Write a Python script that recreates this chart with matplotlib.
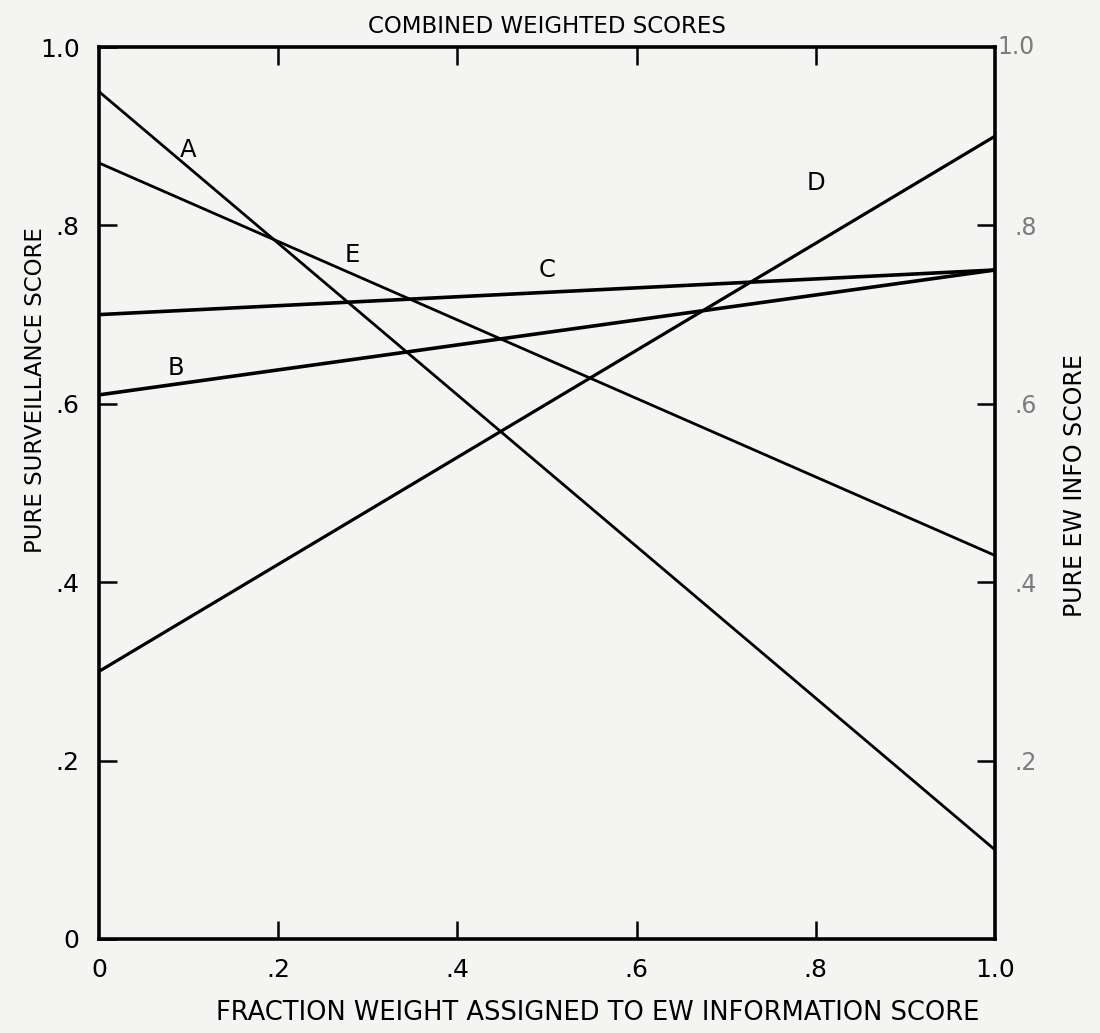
import matplotlib
matplotlib.use("Agg")
import matplotlib.pyplot as plt

# Data: line endpoints (x = 0 and x = 1.0)
x_vals = [0.0, 1.0]
series_names = ["A", "B", "C", "D", "E"]
A_vals = [0.95, 0.10]
B_vals = [0.61, 0.75]
C_vals = [0.70, 0.75]
D_vals = [0.30, 0.90]
E_vals = [0.87, 0.43]

label_pos = {"A": (0.10, 0.885), "B": (0.086, 0.64), "C": (0.50, 0.75),
             "D": (0.80, 0.848), "E": (0.283, 0.767)}
line_widths = {"A": 2.0, "B": 2.6, "C": 2.6, "D": 2.3, "E": 2.0}

xticks = [0, 0.2, 0.4, 0.6, 0.8, 1.0]
xticklabels = ["0", ".2", ".4", ".6", ".8", "1.0"]
yticks = [0, 0.2, 0.4, 0.6, 0.8, 1.0]
yticklabels = ["0", ".2", ".4", ".6", ".8", "1.0"]
right_ticks = [0.2, 0.4, 0.6, 0.8]
right_ticklabels = [".2", ".4", ".6", ".8"]

FONT = dict(family="DejaVu Sans")
BG = "#f4f4f2"
GRAY = "#7c7c7c"

fig = plt.figure(figsize=(11, 10.33), dpi=100, facecolor=BG)
ax = fig.add_axes([0.09, 0.091, 0.8145, 0.8635])
ax.set_facecolor(BG)

data = {"A": A_vals, "B": B_vals, "C": C_vals, "D": D_vals, "E": E_vals}
for name in series_names:
    ax.plot(x_vals, data[name], color="black", lw=line_widths[name],
            solid_capstyle="butt", clip_on=False)
    lx, ly = label_pos[name]
    ax.text(lx, ly, name, fontsize=17.5, ha="center", va="center", **FONT)

ax.set_xlim(0, 1.0)
ax.set_ylim(0, 1.0)
for s in ax.spines.values():
    s.set_linewidth(2.6)

ax.set_xticks(xticks)
ax.set_xticklabels(xticklabels, fontsize=18, **FONT)
ax.set_yticks(yticks)
ax.set_yticklabels(yticklabels, fontsize=18, **FONT)
ax.tick_params(axis="both", direction="in", length=13, width=1.8,
               top=True, pad=14)
ax.tick_params(axis="y", right=False)

# remove tick marks at the corners
for t in ax.xaxis.get_major_ticks():
    if t.get_loc() in (0, 1.0):
        t.tick1line.set_visible(False); t.tick2line.set_visible(False)
for t in ax.yaxis.get_major_ticks():
    if t.get_loc() in (0, 1.0):
        t.tick1line.set_visible(False); t.tick2line.set_visible(False)

ax2 = ax.twinx()
ax2.set_ylim(0, 1.0)
ax2.set_yticks(right_ticks)
ax2.set_yticklabels(right_ticklabels, fontsize=17, color=GRAY,
                    family="DejaVu Sans")
ax2.tick_params(axis="y", direction="in", length=13, width=1.8, pad=14)
for s in ax2.spines.values():
    s.set_visible(False)
ax2.text(1.003, 1.0, "1.0", transform=ax2.transAxes, fontsize=17, color=GRAY,
         ha="left", va="center", family="DejaVu Sans")

ax.set_title("COMBINED WEIGHTED SCORES", fontsize=16.5, pad=10, **FONT)
ax.set_xlabel("FRACTION WEIGHT ASSIGNED TO EW INFORMATION SCORE",
              fontsize=18.5, labelpad=10, **FONT)
ax.xaxis.set_label_coords(0.557, -0.068)
fig.text(0.032, 0.622, "PURE SURVEILLANCE SCORE", rotation=90, fontsize=16.5,
         ha="center", va="center", **FONT)
fig.text(0.977, 0.53, "PURE EW INFO SCORE", rotation=90, fontsize=17,
         ha="center", va="center", **FONT)

fig.savefig("out.png", dpi=100, facecolor=BG)
